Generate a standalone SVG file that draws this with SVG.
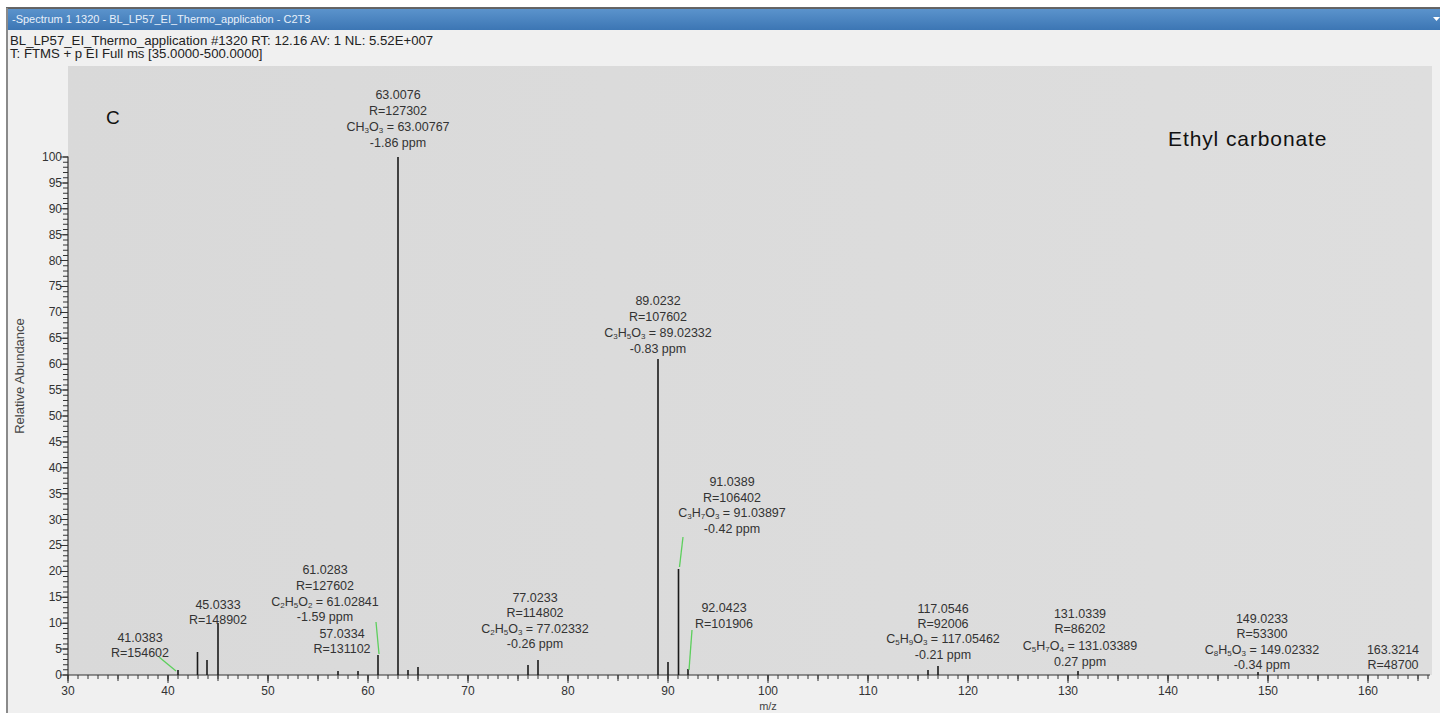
<svg xmlns="http://www.w3.org/2000/svg" width="1440" height="713" viewBox="0 0 1440 713">
<defs>
<linearGradient id="tb" x1="0" y1="0" x2="0" y2="1">
<stop offset="0" stop-color="#5b93cc"/><stop offset="1" stop-color="#3c76b4"/>
</linearGradient>
<linearGradient id="pl" x1="0" y1="0" x2="1" y2="0">
<stop offset="0" stop-color="#d9d9d9"/><stop offset="1" stop-color="#dedede"/>
</linearGradient>
</defs>
<style>
text{font-family:"Liberation Sans",Arial,sans-serif;fill:#333}
.lb{font-size:12.5px;text-anchor:middle}
.ax{font-size:12px;fill:#444}
.s{font-size:8px}
.pk{stroke:#1a1a1a;stroke-width:1.6}
.gl{stroke:#5ccf5c;stroke-width:1.3}
</style>
<rect width="1440" height="713" fill="#ffffff"/>
<rect x="6" y="8" width="1434" height="705" fill="#f0f0f0"/>
<line x1="6" y1="8" x2="1440" y2="8" stroke="#333" stroke-width="1.5"/>
<line x1="7" y1="8" x2="7" y2="713" stroke="#8a8a8a" stroke-width="2"/>
<rect x="8" y="9" width="1432" height="21" fill="url(#tb)"/>
<text x="12" y="23" style="font-size:11px;fill:#e8f0fa">-Spectrum  1  1320 - BL_LP57_EI_Thermo_application - C2T3</text>
<polygon points="1433,17 1440,17 1436.5,21" fill="#fff"/>
<text x="10" y="45" style="font-size:13.2px;fill:#222">BL_LP57_EI_Thermo_application #1320 RT: 12.16 AV: 1 NL: 5.52E+007</text>
<text x="10" y="58" style="font-size:13.2px;fill:#222">T: FTMS + p EI Full ms [35.0000-500.0000]</text>
<rect x="68" y="66" width="1364" height="609" fill="url(#pl)"/>

<g id="axes" stroke="#333" fill="none">
<line x1="68" y1="675" x2="1430" y2="675" stroke-width="1.2"/>
<line x1="68" y1="675.5" x2="68" y2="156.5" stroke-width="1.2"/>
<line x1="65.5" y1="675.5" x2="65.5" y2="156" stroke-width="5" stroke-dasharray="1 4.18"/>
<line x1="64" y1="675.5" x2="64" y2="156" stroke-width="8" stroke-dasharray="1 24.9"/>
<line x1="67.5" y1="677" x2="1431" y2="677" stroke-width="4" stroke-dasharray="1 9"/>
<line x1="67.5" y1="678" x2="1431" y2="678" stroke-width="6" stroke-dasharray="1 49"/>
<line x1="67.5" y1="679" x2="1431" y2="679" stroke-width="8" stroke-dasharray="1 99"/>
</g>

<g id="y-labels" class="ax" text-anchor="end">
<text x="62" y="161">100</text><text x="62" y="187">95</text><text x="62" y="213">90</text>
<text x="62" y="239">85</text><text x="62" y="265">80</text><text x="62" y="290">75</text>
<text x="62" y="316">70</text><text x="62" y="342">65</text><text x="62" y="368">60</text>
<text x="62" y="394">55</text><text x="62" y="420">50</text><text x="62" y="446">45</text>
<text x="62" y="472">40</text><text x="62" y="498">35</text><text x="62" y="524">30</text>
<text x="62" y="549">25</text><text x="62" y="575">20</text><text x="62" y="601">15</text>
<text x="62" y="627">10</text><text x="62" y="653">5</text><text x="62" y="679">0</text>
</g>
<g id="x-labels" class="ax" text-anchor="middle">
<text x="68" y="695">30</text><text x="168" y="695">40</text><text x="268" y="695">50</text>
<text x="368" y="695">60</text><text x="468" y="695">70</text><text x="568" y="695">80</text>
<text x="668" y="695">90</text><text x="768" y="695">100</text><text x="868" y="695">110</text>
<text x="968" y="695">120</text><text x="1068" y="695">130</text><text x="1168" y="695">140</text>
<text x="1268" y="695">150</text><text x="1368" y="695">160</text>
</g>
<text x="768" y="710" class="ax" text-anchor="middle" style="font-size:11px">m/z</text>
<text transform="translate(24,376) rotate(-90)" class="ax" text-anchor="middle" style="font-size:13px">Relative Abundance</text>

<text x="106" y="124" style="font-size:19px;fill:#111">C</text>
<text x="1168" y="146" style="font-size:21px;letter-spacing:0.9px;fill:#111">Ethyl carbonate</text>

<g id="peaks">
<line class="pk" x1="178" y1="675" x2="178" y2="670"/>
<line class="pk" x1="197.5" y1="675" x2="197.5" y2="652"/>
<line class="pk" x1="207" y1="675" x2="207" y2="660"/>
<line class="pk" x1="218" y1="675" x2="218" y2="623"/>
<line class="pk" x1="338" y1="675" x2="338" y2="671"/>
<line class="pk" x1="358" y1="675" x2="358" y2="671"/>
<line class="pk" x1="378" y1="675" x2="378" y2="655"/>
<line class="pk" x1="398" y1="675" x2="398" y2="157" stroke-width="2"/>
<line class="pk" x1="408" y1="675" x2="408" y2="670"/>
<line class="pk" x1="418" y1="675" x2="418" y2="667"/>
<line class="pk" x1="528" y1="675" x2="528" y2="665"/>
<line class="pk" x1="538" y1="675" x2="538" y2="660"/>
<line class="pk" x1="658" y1="675" x2="658" y2="359" stroke-width="2"/>
<line class="pk" x1="668" y1="675" x2="668" y2="662"/>
<line class="pk" x1="678.5" y1="675" x2="678.5" y2="569" stroke-width="2"/>
<line class="pk" x1="688" y1="675" x2="688" y2="669"/>
<line class="pk" x1="928" y1="675" x2="928" y2="670"/>
<line class="pk" x1="938" y1="675" x2="938" y2="666"/>
<line class="pk" x1="1078" y1="675" x2="1078" y2="671"/>
<line class="pk" x1="1258" y1="675" x2="1258" y2="672"/>
</g>

<g id="connectors">
<line class="gl" x1="159" y1="657" x2="176" y2="671"/>
<line class="gl" x1="376" y1="622" x2="379" y2="654"/>
<line class="gl" x1="683" y1="537" x2="679.5" y2="567"/>
<line class="gl" x1="692" y1="630" x2="689" y2="670"/>
</g>

<g id="label-63" class="lb">
<text x="398" y="99">63.0076</text>
<text x="398" y="115">R=127302</text>
<text x="398" y="131">CH<tspan class="s" dy="2">3</tspan><tspan dy="-2">O</tspan><tspan class="s" dy="2">3</tspan><tspan dy="-2"> = 63.00767</tspan></text>
<text x="398" y="147">-1.86 ppm</text>
</g>
<g id="label-89" class="lb">
<text x="658" y="305">89.0232</text>
<text x="658" y="321">R=107602</text>
<text x="658" y="337">C<tspan class="s" dy="2">3</tspan><tspan dy="-2">H</tspan><tspan class="s" dy="2">5</tspan><tspan dy="-2">O</tspan><tspan class="s" dy="2">3</tspan><tspan dy="-2"> = 89.02332</tspan></text>
<text x="658" y="353">-0.83 ppm</text>
</g>
<g id="label-91" class="lb">
<text x="732" y="486">91.0389</text>
<text x="732" y="502">R=106402</text>
<text x="732" y="517">C<tspan class="s" dy="2">3</tspan><tspan dy="-2">H</tspan><tspan class="s" dy="2">7</tspan><tspan dy="-2">O</tspan><tspan class="s" dy="2">3</tspan><tspan dy="-2"> = 91.03897</tspan></text>
<text x="732" y="533">-0.42 ppm</text>
</g>
<g id="label-61" class="lb">
<text x="325" y="574">61.0283</text>
<text x="325" y="590">R=127602</text>
<text x="325" y="606">C<tspan class="s" dy="2">2</tspan><tspan dy="-2">H</tspan><tspan class="s" dy="2">5</tspan><tspan dy="-2">O</tspan><tspan class="s" dy="2">2</tspan><tspan dy="-2"> = 61.02841</tspan></text>
<text x="325" y="621">-1.59 ppm</text>
</g>
<g id="label-45" class="lb">
<text x="218" y="609">45.0333</text>
<text x="218" y="624">R=148902</text>
</g>
<g id="label-41" class="lb">
<text x="140" y="642">41.0383</text>
<text x="140" y="657">R=154602</text>
</g>
<g id="label-57" class="lb">
<text x="342" y="638">57.0334</text>
<text x="342" y="653">R=131102</text>
</g>
<g id="label-77" class="lb">
<text x="535" y="602">77.0233</text>
<text x="535" y="617">R=114802</text>
<text x="535" y="633">C<tspan class="s" dy="2">2</tspan><tspan dy="-2">H</tspan><tspan class="s" dy="2">5</tspan><tspan dy="-2">O</tspan><tspan class="s" dy="2">3</tspan><tspan dy="-2"> = 77.02332</tspan></text>
<text x="535" y="648">-0.26 ppm</text>
</g>
<g id="label-92" class="lb">
<text x="724" y="612">92.0423</text>
<text x="724" y="628">R=101906</text>
</g>
<g id="label-117" class="lb">
<text x="943" y="613">117.0546</text>
<text x="943" y="628">R=92006</text>
<text x="943" y="643">C<tspan class="s" dy="2">5</tspan><tspan dy="-2">H</tspan><tspan class="s" dy="2">9</tspan><tspan dy="-2">O</tspan><tspan class="s" dy="2">3</tspan><tspan dy="-2"> = 117.05462</tspan></text>
<text x="943" y="659">-0.21 ppm</text>
</g>
<g id="label-131" class="lb">
<text x="1080" y="618">131.0339</text>
<text x="1080" y="633">R=86202</text>
<text x="1080" y="650">C<tspan class="s" dy="2">5</tspan><tspan dy="-2">H</tspan><tspan class="s" dy="2">7</tspan><tspan dy="-2">O</tspan><tspan class="s" dy="2">4</tspan><tspan dy="-2"> = 131.03389</tspan></text>
<text x="1080" y="666">0.27 ppm</text>
</g>
<g id="label-149" class="lb">
<text x="1262" y="623">149.0233</text>
<text x="1262" y="638">R=53300</text>
<text x="1262" y="654">C<tspan class="s" dy="2">8</tspan><tspan dy="-2">H</tspan><tspan class="s" dy="2">5</tspan><tspan dy="-2">O</tspan><tspan class="s" dy="2">3</tspan><tspan dy="-2"> = 149.02332</tspan></text>
<text x="1262" y="669">-0.34 ppm</text>
</g>
<g id="label-163" class="lb">
<text x="1393" y="654">163.3214</text>
<text x="1393" y="669">R=48700</text>
</g>
</svg>
